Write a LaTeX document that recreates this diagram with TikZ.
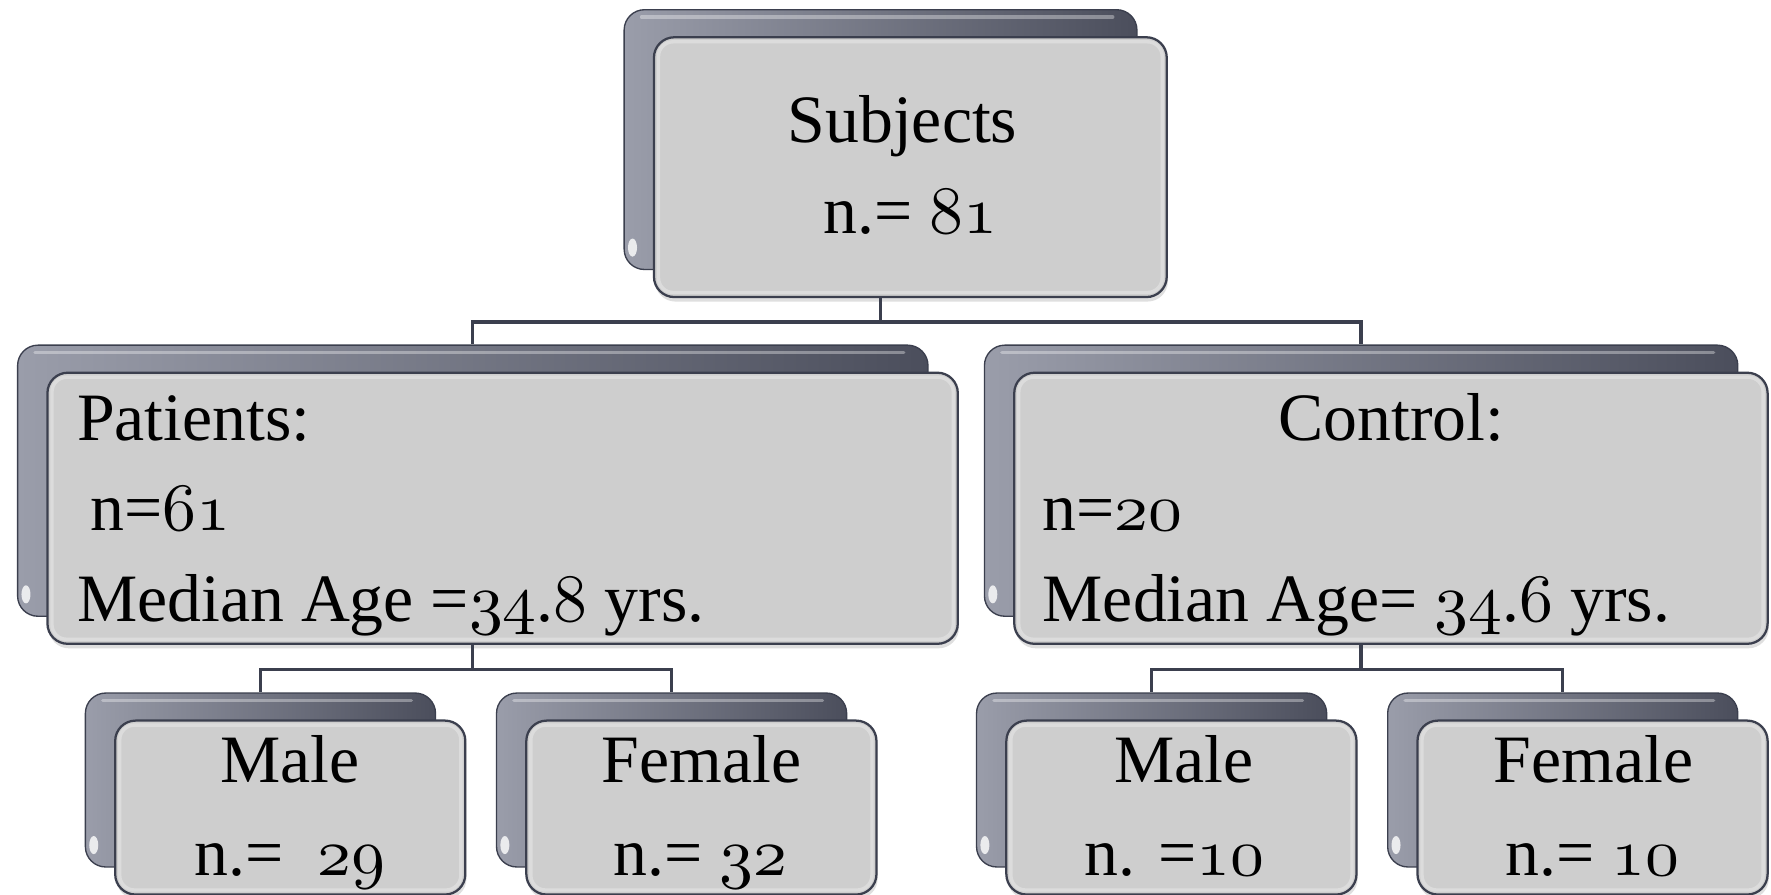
\documentclass[tikz,border=0pt]{standalone}
\usepackage{fontspec}
\setmainfont{Liberation Serif}
\usetikzlibrary{shadows,calc}
\definecolor{edge}{HTML}{3B3F4E}
\definecolor{frontfill}{HTML}{CECECE}
\definecolor{backL}{HTML}{9A9DAA}
\definecolor{backR}{HTML}{4B4E5C}
\newcommand\osd[1]{\scalebox{6}{\fontencoding{OML}\fontfamily{cmm}\fontseries{m}\fontshape{it}\fontsize{10}{12}\selectfont #1}}
\tikzset{
  backbox/.style={draw=edge, line width=1.2pt, rounded corners=18pt, left color=backL, right color=backR, inner sep=0pt, anchor=north west},
  frontbox/.style={draw=edge, line width=2pt, rounded corners=18pt, fill=frontfill, inner sep=0pt, anchor=north west, drop shadow={opacity=0.25, shadow xshift=1pt, shadow yshift=-4pt}},
  lbl/.style={font=\fontsize{60}{72}\selectfont, inner sep=0pt, anchor=base},
  conn/.style={draw=edge, line width=3pt},
  glint/.style={white, opacity=.35, line width=3pt, line cap=round},
  bevel/.style={draw=white, opacity=.3, line width=3pt, rounded corners=13pt},
}
\newcommand\boxpair[5]{%
  \node[backbox, minimum width=#4pt, minimum height=#5pt] (#1B) at (#2,#3) {};
  \draw[glint] ($(#1B.north west)+(16,7)$) -- ($(#1B.north east)+(-22,7)$);
  \fill[white, opacity=.8] ($(#1B.south west)+(8,-20)$) ellipse (4pt and 8pt);
  \node[frontbox, minimum width=#4pt, minimum height=#5pt] (#1) at (#2+26,#3+24) {};
  \draw[bevel] ($(#1.north west)+(5,5)$) rectangle ($(#1.south east)+(-5,-5)$);
}
\begin{document}
\begin{tikzpicture}[x=1pt, y=-1pt]
\useasboundingbox[fill=white] (0,0) rectangle (1568,792);
% boxes
\boxpair{top}{552}{8}{454}{230}
\boxpair{pat}{15}{305}{806}{240}
\boxpair{con}{871}{305}{667}{240}
\boxpair{lm}{75}{613}{310}{154}
\boxpair{lf}{439}{613}{310}{154}
\boxpair{rm}{864}{613}{310}{154}
\boxpair{rf}{1228}{613}{310}{154}
% connectors
\draw[conn] (topB.center |- top.south) -- ++(0,21) -| (patB.north);
\draw[conn] (topB.center |- top.south) -- ++(0,21) -| (conB.north);
\draw[conn] (patB.center |- pat.south) -- ++(0,22) -| (lmB.north);
\draw[conn] (patB.center |- pat.south) -- ++(0,22) -| (lfB.north);
\draw[conn] (conB.center |- con.south) -- ++(0,22) -| (rmB.north);
\draw[conn] (conB.center |- con.south) -- ++(0,22) -| (rfB.north);
% texts
\node[lbl] (tS) at (799,126) {Subjects};
\node[lbl] (tN) at (806,207) {n.= \osd{81}};
\node[lbl, anchor=base west] (pA) at (68,390) {Patients:};
\node[lbl, anchor=base west] (pN) at (80,470) {n=\osd{61}};
\node[lbl, anchor=base west] (pM) at (68,550) {Median Age =\osd{34}.\osd{8} yrs.};
\node[lbl] (cA) at (1232,390) {Control:};
\node[lbl, anchor=base west] (cN) at (923,470) {n=\osd{20}};
\node[lbl, anchor=base west] (cM) at (923,550) {Median Age= \osd{34}.\osd{6} yrs.};
\node[lbl] (lmA) at (257,693) {Male};
\node[lbl] (lmN) at (257,775) {n.=~~\osd{29}};
\node[lbl] (lfA) at (621,693) {Female};
\node[lbl] (lfN) at (620,775) {n.= \osd{32}};
\node[lbl] (rmA) at (1048,693) {Male};
\node[lbl] (rmN) at (1040,775) {n. =\osd{10}};
\node[lbl] (rfA) at (1411,693) {Female};
\node[lbl] (rfN) at (1410,775) {n.= \osd{10}};
\end{tikzpicture}
\end{document}
